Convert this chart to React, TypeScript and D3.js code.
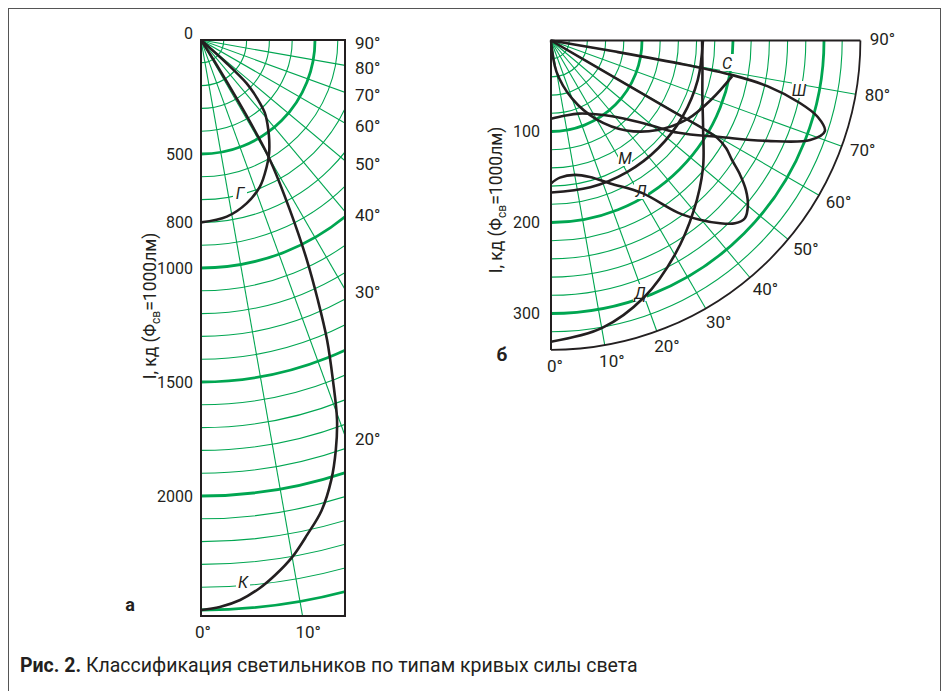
import React from "react";
import * as d3 from "d3";

// ---------- Panel а (К, Г) ----------
const aLeftTicks = [0, 500, 800, 1000, 1500, 2000];
const aRightAngles = [90, 80, 70, 60, 50, 40, 30, 20];
const aBottomAngles = [0, 10];
const gAngles = [0, 8.3, 15.6, 21.9, 27.4, 31, 34.3, 37, 39.4, 41.2, 43, 44.8, 46.5, 47.8, 49];
const gValues = [800, 783, 744, 693, 626, 580, 531, 490, 454, 425, 380, 330, 276, 152, 0];
const kAngles = [0, 1.9, 4.0, 6.1, 7.9, 10.0, 12.1, 14.4, 16.5, 18.2, 19.7, 21.2, 22.8, 24.2, 25.7, 27.6, 29.9, 30.7, 31.3, 32.3, 33.2];
const kValues = [2500, 2488, 2462, 2418, 2369, 2303, 2220, 2129, 2012, 1893, 1770, 1600, 1427, 1250, 1071, 842, 607, 460, 317, 114, 0];

// ---------- Panel б (Д, М, С, Л, Ш) ----------
const bLeftTicks = [100, 200, 300];
const bAngleLabels = [0, 10, 20, 30, 40, 50, 60, 70, 80, 90];
const dAngles = [0, 10, 20, 30, 40, 50, 60, 70, 80, 90];
const dValues = [331, 321, 300, 272, 244, 218, 193, 177, 169, 166];
const mAngles = [0, 15, 30, 45, 60, 75, 90];
const mValues = [167, 167, 167, 167, 167, 167, 167];
const sAngles = [0, 10, 20, 30, 40, 50, 60, 70, 78.9];
const sValues = [0, 35, 68, 100, 129, 153, 173, 188, 203];
const lAngles = [0, 3.7, 10.1, 15.9, 22.5, 30.8, 36.4, 39.7, 42.5, 45.2, 47.5, 50.1, 52.5, 54.6, 56.6, 58.4, 59.6, 59.8, 59.8, 59.9];
const lValues = [157, 151, 150, 156, 170, 195, 235, 256, 272, 285, 289, 282, 270, 255, 238, 226, 212, 150, 80, 0];
const shAngles = [0, 10, 20.9, 38.9, 48.7, 54.1, 60.3, 65.1, 69, 71.7, 74, 75.9, 78.1, 79.2, 79.8, 80.2, 80.6];
const shValues = [86, 84, 86, 107, 139, 173, 214, 262, 305, 317, 305, 282, 243, 203, 150, 70, 0];

const GREEN = "#00a651";
const INK = "#231f20";
const FONT = "Roboto, 'Open Sans', sans-serif";

const rad = (deg: number) => (deg * Math.PI) / 180;

function zip(a: number[], v: number[]): [number, number][] {
  return a.map((x, i) => [x, v[i]] as [number, number]);
}

function quarterArc(ox: number, oy: number, r: number) {
  const p = d3.path();
  p.moveTo(ox, oy + r);
  p.arc(ox, oy, r, Math.PI / 2, 0, true);
  return p.toString();
}

export default function App() {
  // Panel а geometry
  const aOx = 201, aOy = 40, aW = 144, aH = 576;
  const ra = d3.scaleLinear().domain([0, 2500]).range([0, 570]);
  const aMaxCd = ra.invert(Math.hypot(aW, aH)) + 100;
  const aArcs = d3.range(100, aMaxCd, 100);
  const aRadials = d3.range(10, 90, 10);

  // Panel б geometry
  const bOx = 551, bOy = 40.5;
  const rb = d3.scaleLinear().domain([0, 340]).range([0, 309.4]);
  const bArcs = d3.range(20, 340, 20);
  const bRadials = d3.range(10, 90, 10);

  const radialLine = (scale: d3.ScaleLinear<number, number>) =>
    d3
      .lineRadial<[number, number]>()
      .angle((d) => Math.PI - rad(d[0]))
      .radius((d) => scale(d[1]))
      .curve(d3.curveCatmullRom.alpha(0.5));

  const lineA = radialLine(ra);
  const lineB = radialLine(rb);

  const curvesA = [zip(gAngles, gValues), zip(kAngles, kValues)];
  const curvesB = [
    zip(dAngles, dValues),
    zip(mAngles, mValues),
    zip(sAngles, sValues),
    zip(lAngles, lValues),
    zip(shAngles, shValues),
  ];

  const curveLabelsA = [
    { t: "Г", x: 240, y: 193 },
    { t: "К", x: 243, y: 582 },
  ];
  const curveLabelsB = [
    { t: "С", x: 727, y: 63 },
    { t: "Ш", x: 799, y: 90 },
    { t: "М", x: 625, y: 158 },
    { t: "Л", x: 641, y: 191 },
    { t: "Д", x: 640, y: 293 },
  ];

  const R = rb(340);

  const yTitle = (cx: number, cy: number) => (
    <text
      transform={`translate(${cx},${cy}) rotate(-90)`}
      textAnchor="middle"
      fontSize={17.5}
      fontFamily={FONT}
      fill={INK}
    >
      I, кд (Φ
      <tspan fontSize={12} dy={4}>св</tspan>
      <tspan dy={-4}>=1000лм)</tspan>
    </text>
  );

  return (
    <svg width={949} height={691} style={{ position: "absolute", left: 0, top: 0 }}>
      <rect x={0} y={0} width={949} height={691} fill="#fff" />
      <rect x={8.5} y={8.5} width={932} height={700} fill="none" stroke="#555" strokeWidth={1} />
      <defs>
        <clipPath id="clipA">
          <rect x={aOx} y={aOy} width={aW} height={aH} />
        </clipPath>
      </defs>

      {/* ---------- Panel а ---------- */}
      <g clipPath="url(#clipA)">
        {aArcs.map((c) => (
          <path
            key={"aa" + c}
            d={quarterArc(aOx, aOy, ra(c))}
            fill="none"
            stroke={GREEN}
            strokeWidth={c % 500 === 0 ? 2.8 : 1.1}
          />
        ))}
        {aRadials.map((deg) => {
          const L = 2000;
          return (
            <line
              key={"ar" + deg}
              x1={aOx}
              y1={aOy}
              x2={aOx + L * Math.sin(rad(deg))}
              y2={aOy + L * Math.cos(rad(deg))}
              stroke={GREEN}
              strokeWidth={1.1}
            />
          );
        })}
      </g>
      {curveLabelsA.map((l) => (
        <rect key={"abg" + l.t} x={l.x - 7} y={l.y - 9} width={14} height={17} fill="#fff" />
      ))}
      <g clipPath="url(#clipA)">
        {curvesA.map((c, i) => (
          <path
            key={"ac" + i}
            d={lineA(c) || ""}
            transform={`translate(${aOx},${aOy})`}
            fill="none"
            stroke={INK}
            strokeWidth={2.6}
          />
        ))}
      </g>
      <rect x={aOx} y={aOy} width={aW} height={aH} fill="none" stroke={INK} strokeWidth={2} />
      {curveLabelsA.map((l) => (
        <text
          key={"al" + l.t}
          x={l.x}
          y={l.y}
          textAnchor="middle"
          dominantBaseline="central"
          fontSize={16}
          fontStyle="italic"
          fontFamily={FONT}
          fill={INK}
        >
          {l.t}
        </text>
      ))}
      {aLeftTicks.map((t) => (
        <text
          key={"alt" + t}
          x={193}
          y={t === 0 ? aOy - 7 : aOy + ra(t)}
          textAnchor="end"
          dominantBaseline="central"
          fontSize={16}
          fontFamily={FONT}
          fill={INK}
        >
          {t}
        </text>
      ))}
      {aRightAngles.map((deg) => {
        const y = deg === 90 ? aOy : aOy + aW / Math.tan(rad(deg));
        return (
          <text
            key={"ara" + deg}
            x={355}
            y={y + 3}
            dominantBaseline="central"
            fontSize={17}
            fontFamily={FONT}
            fill={INK}
          >
            {deg}°
          </text>
        );
      })}
      {aBottomAngles.map((deg) => (
        <text
          key={"aba" + deg}
          x={aOx + ra(2500) * Math.tan(rad(deg)) - 6}
          y={632}
          dominantBaseline="central"
          fontSize={17}
          fontFamily={FONT}
          fill={INK}
        >
          {deg}°
        </text>
      ))}
      {yTitle(156, 306)}
      <text x={130} y={604} textAnchor="middle" dominantBaseline="central" fontSize={18} fontWeight="bold" fontFamily={FONT} fill={INK}>
        а
      </text>

      {/* ---------- Panel б ---------- */}
      <g>
        {bArcs.map((c) => (
          <path
            key={"ba" + c}
            d={quarterArc(bOx, bOy, rb(c))}
            fill="none"
            stroke={GREEN}
            strokeWidth={c % 100 === 0 ? 2.8 : 1.1}
          />
        ))}
        {bRadials.map((deg) => (
          <line
            key={"br" + deg}
            x1={bOx}
            y1={bOy}
            x2={bOx + R * Math.sin(rad(deg))}
            y2={bOy + R * Math.cos(rad(deg))}
            stroke={GREEN}
            strokeWidth={1.1}
          />
        ))}
      </g>
      {curveLabelsB.map((l) => (
        <rect key={"bbg" + l.t} x={l.x - 7} y={l.y - 9} width={14} height={17} fill="#fff" />
      ))}
      {curvesB.map((c, i) => (
        <path
          key={"bc" + i}
          d={lineB(c) || ""}
          transform={`translate(${bOx},${bOy})`}
          fill="none"
          stroke={INK}
          strokeWidth={2.6}
        />
      ))}
      <path
        d={`M${bOx},${bOy + R} L${bOx},${bOy} L${bOx + R},${bOy}`}
        fill="none"
        stroke={INK}
        strokeWidth={2}
      />
      <path d={quarterArc(bOx, bOy, R)} fill="none" stroke={INK} strokeWidth={1.8} />
      {curveLabelsB.map((l) => (
        <text
          key={"bl" + l.t}
          x={l.x}
          y={l.y}
          textAnchor="middle"
          dominantBaseline="central"
          fontSize={16}
          fontStyle="italic"
          fontFamily={FONT}
          fill={INK}
        >
          {l.t}
        </text>
      ))}
      {bLeftTicks.map((t) => (
        <text
          key={"blt" + t}
          x={540}
          y={bOy + rb(t)}
          textAnchor="end"
          dominantBaseline="central"
          fontSize={16}
          fontFamily={FONT}
          fill={INK}
        >
          {t}
        </text>
      ))}
      {bAngleLabels.map((deg) => {
        const x = bOx + (R + 18) * Math.sin(rad(deg)) + 4;
        const y = bOy + (R + 18) * Math.cos(rad(deg)) - 2;
        return (
          <text
            key={"bal" + deg}
            x={x}
            y={y}
            textAnchor="middle"
            dominantBaseline="central"
            fontSize={17}
            fontFamily={FONT}
            fill={INK}
          >
            {deg}°
          </text>
        );
      })}
      {yTitle(502, 200)}
      <text x={502} y={354} textAnchor="middle" dominantBaseline="central" fontSize={19} fontWeight="bold" fontFamily={FONT} fill={INK}>
        б
      </text>

      {/* caption */}
      <text x={20} y={672} fontSize={19.5} fontFamily={FONT} fill={INK}>
        <tspan fontWeight="bold">Рис. 2.</tspan> Классификация светильников по типам кривых силы света
      </text>
    </svg>
  );
}
